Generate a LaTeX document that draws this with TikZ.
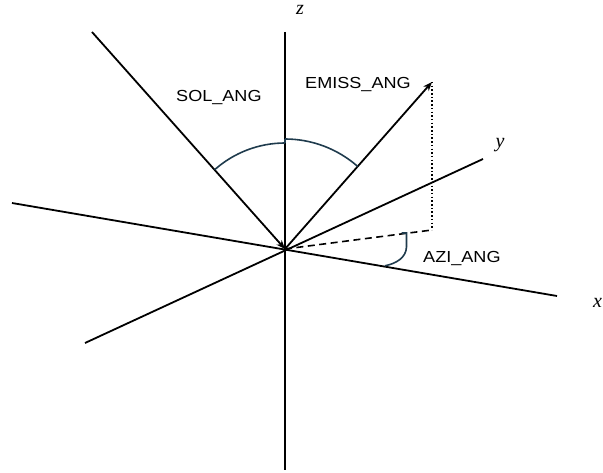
\documentclass[tikz,border=0pt]{standalone}
\usepackage{fontspec}
\setmainfont{Liberation Serif}
\newfontfamily\labfont[FakeStretch=1.13]{Liberation Sans}
\usetikzlibrary{arrows.meta}
\definecolor{arccol}{HTML}{1F3B4D}
\tikzset{
  axisline/.style={line width=1.8pt, black},
  vecline/.style={line width=1.8pt, black, -{Stealth[length=9pt,width=7pt]}},
  anglearc/.style={line width=1.6pt, arccol},
  lab/.style={font=\labfont\fontsize{16}{19}\selectfont, inner sep=0pt, anchor=base west},
  axlab/.style={font=\itshape\fontsize{20}{24}\selectfont, inner sep=0pt, text height=9pt},
}
\begin{document}
\begin{tikzpicture}[x=1pt,y=1pt]
\path[use as bounding box] (0,0) rectangle (603,-473);
% points
\coordinate (O) at (285,-249);
\coordinate (zt) at (285,-32);
\coordinate (zb) at (285,-470);
\coordinate (S) at (92,-32);
\coordinate (E) at (432,-82);
\coordinate (P) at (432,-230);
\coordinate (xl) at (12,-203);
\coordinate (xr) at (557,-296);
\coordinate (yl) at (85,-343);
\coordinate (yr) at (483,-159);
% axes
\draw[axisline] (zt) -- (zb);
\draw[axisline] (xl) -- (xr);
\draw[axisline] (yl) -- (yr);
% vectors
\draw[vecline] (S) -- (O);
\draw[vecline] (O) -- (E);
\draw[line width=1.6pt, dash pattern=on 1.5pt off 2.2pt] (E) -- (P);
\draw[line width=1.6pt, dash pattern=on 7pt off 4.5pt] (O) -- (P);
% zenith arcs
\draw[anglearc] ([shift={(90:106)}]O) arc[start angle=90, end angle=131.65, radius=106];
\draw[anglearc] ([shift={(48.64:110)}]O) arc[start angle=48.64, end angle=90, radius=110];
\draw[anglearc] ([shift={(90:110)}]O) -- ([shift={(90:106)}]O);
% azimuth bracket
\coordinate (a1) at (401.5,-233);
\coordinate (a2) at (406.5,-233);
\coordinate (a3) at (406.5,-247);
\coordinate (a4) at (385,-265.8);
\draw[anglearc] (a1) -- (a2) -- (a3) .. controls (406,-258) and (396,-263.5) .. (a4);
% labels
\node[lab] (sol) at (176,-101.5) {SOL\_ANG};
\node[lab] (emiss) at (305,-89) {EMISS\_ANG};
\node[lab] (azi) at (423,-262.5) {AZI\_ANG};
\node[axlab, anchor=base] (zlab) at (300,-15) {z};
\node[axlab, anchor=base] (ylab) at (500,-148) {y};
\node[axlab, anchor=base west] (xlab) at (593,-308) {x};
\end{tikzpicture}
\end{document}
